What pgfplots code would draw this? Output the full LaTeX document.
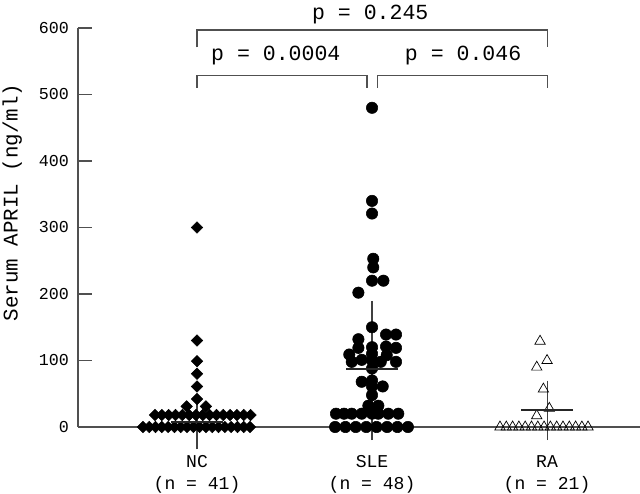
\documentclass[border=0pt]{standalone}
\usepackage{fontspec}
\setmainfont{Liberation Mono}
\usepackage{pgfplots}
\pgfplotsset{compat=1.18}

\definecolor{axisgray}{HTML}{505050}

\begin{document}
\begin{tikzpicture}
\useasboundingbox (-56.16pt,-48.24pt) rectangle (404.64pt,307.44pt);
\begin{axis}[
    at={(0,0)}, anchor=south west,
    scale only axis, width=404.64pt, height=287.28pt,
    xmin=0.32, xmax=3.531, ymin=0, ymax=600,
    clip=false,
    axis lines=left,
    axis line style={-, draw=axisgray, line width=0.9pt},
    ytick={0,100,...,600},
    tick align=inside,
    major tick length=10pt,
    y tick style={draw=axisgray, line width=0.9pt},
    xtick={1,2,3},
    x tick style={draw=none},
    xticklabels={NC\\(n = 41), SLE\\(n = 48), RA\\(n = 21)},
    xticklabel style={align=center, font=\fontsize{13}{15.8}\selectfont, yshift=-17pt},
    yticklabel style={font=\fontsize{12}{12}\selectfont, xshift=-3pt},
    /pgf/number format/assume math mode=true,
    ylabel={Serum APRIL (ng/ml)},
    ylabel style={at={(axis description cs:-0.117,0.563)}, anchor=center, rotate=0,
        font=\fontsize{15}{15}\selectfont},
]

% NC
\addplot[only marks, mark=square*, mark size=2.9pt, mark options={rotate=45, fill=black}] coordinates {
  (1,300) (1,130) (1,99) (1,80) (1,61) (1,42)
  (0.941,31) (1.051,31)
  (0.760,18) (0.799,18) (0.838,18) (0.877,18) (0.916,18) (0.955,18) (0.994,18) (1.033,18)
  (1.072,18) (1.111,18) (1.150,18) (1.189,18) (1.228,18) (1.267,18) (1.306,18)
  (0.691,0) (0.727,0) (0.763,0) (0.799,0) (0.835,0) (0.871,0) (0.907,0) (0.943,0) (0.979,0)
  (1.015,0) (1.051,0) (1.087,0) (1.123,0) (1.159,0) (1.195,0) (1.231,0) (1.267,0) (1.303,0)
};

% SLE
\addplot[only marks, mark=*, mark size=4.1pt, mark options={fill=black}] coordinates {
  (2,480) (2,340) (2,321)
  (2.007,253) (2.007,240) (2,220) (2.065,220) (1.922,202)
  (2,150)
  (1.922,132) (2.08,139) (2.137,139)
  (1.922,119) (2,120) (2.08,121) (2.137,119)
  (1.870,109) (2,110) (2.084,108)
  (1.884,98) (1.941,101) (2,100) (2.05,98) (2.137,98)
  (2,88)
  (1.941,68) (2,70)
  (2,61) (2.061,61)
  (2,48)
  (1.979,32) (2.036,32)
  (1.794,20) (1.840,20) (1.884,20) (1.941,20) (2,20) (2.036,20) (2.093,20) (2.150,20)
  (1.789,0) (1.848,0) (1.907,0) (1.967,0) (2.026,0) (2.086,0) (2.145,0) (2.205,0)
};

% RA
\addplot[only marks, mark=triangle, mark size=4.3pt, mark options={line width=0.5pt, fill=white}] coordinates {
  (2.96,129) (3,100) (2.941,90) (2.979,57) (3.013,28) (2.941,17)
  (2.731,0) (2.767,0) (2.803,0) (2.839,0) (2.875,0) (2.911,0) (2.947,0) (2.983,0)
  (3.019,0) (3.055,0) (3.091,0) (3.127,0) (3.163,0) (3.199,0) (3.234,0)
};

% mean +/- SD
\addplot[only marks, mark=-, mark size=18.7pt, mark options={line width=1.4pt, draw=black!85},
    error bars/.cd, y dir=both, y explicit,
    error bar style={line width=0.8pt, draw=black!75},
    error mark=-, error mark options={mark size=4.7pt, line width=0.8pt, draw=black!75}]
  coordinates {
  (1,8) += (0,32) -= (0,32)
  (2,87) += (0,93) -= (0,97)
  (3,26) += (0,34) -= (0,36)
};

% significance brackets
\draw[axisgray, line width=0.8pt] (axis cs:1,571) -- (axis cs:1,597) -- (axis cs:3,597) -- (axis cs:3,571);
\draw[axisgray, line width=0.8pt] (axis cs:1,510) -- (axis cs:1,529) -- (axis cs:1.971,529) -- (axis cs:1.971,510);
\draw[axisgray, line width=0.8pt] (axis cs:2.029,510) -- (axis cs:2.029,529) -- (axis cs:3,529) -- (axis cs:3,510);
\node[font=\fontsize{15.5}{15.5}\selectfont] at (axis cs:1.99,621) {p = 0.245};
\node[font=\fontsize{15.5}{15.5}\selectfont] at (axis cs:1.45,559) {p = 0.0004};
\node[font=\fontsize{15.5}{15.5}\selectfont] at (axis cs:2.52,559) {p = 0.046};

\end{axis}
\end{tikzpicture}
\end{document}
